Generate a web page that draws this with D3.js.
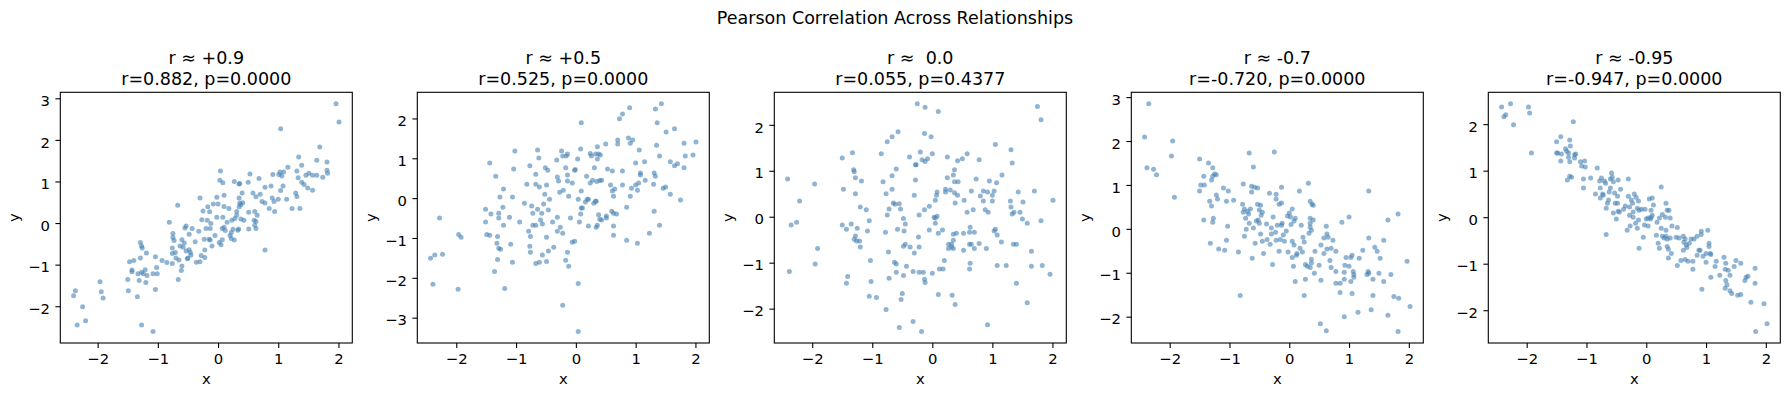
<!DOCTYPE html>
<html>
<head>
<meta charset="utf-8">
<script src="https://cdn.jsdelivr.net/npm/d3@7"></script>
<style>
  html, body { margin: 0; padding: 0; background: #fff; }
  svg { display: block; font-family: "DejaVu Sans", sans-serif; }
</style>
</head>
<body>
<svg id="chart" width="1790" height="396"></svg>
<script>
// ---------- data ----------
const suptitle = "Pearson Correlation Across Relationships";
const targetLabels = ["r ≈ +0.9", "r ≈ +0.5", "r ≈  0.0", "r ≈ -0.7", "r ≈ -0.95"];
const statLabels = ["r=0.882, p=0.0000", "r=0.525, p=0.0000", "r=0.055, p=0.4377", "r=-0.720, p=0.0000", "r=-0.947, p=0.0000"];
const xTicks = [-2, -1, 0, 1, 2];
const yTicks1 = [-2, -1, 0, 1, 2, 3];
const yTicks2 = [-3, -2, -1, 0, 1, 2];
const yTicks3 = [-2, -1, 0, 1, 2];
const yTicks4 = [-2, -1, 0, 1, 2, 3];
const yTicks5 = [-2, -1, 0, 1, 2];

const strongPos = [[-2.40,-1.75],[-2.37,-1.63],[-2.34,-2.45],[-2.25,-2.01],[-2.20,-2.35],[-1.96,-1.41],[-1.94,-1.65],[-1.91,-1.80],[-1.50,-1.36],[-1.49,-1.63],[-1.47,-0.93],[-1.43,-1.13],[-1.43,-1.17],[-1.40,-0.90],[-1.34,-1.77],[-1.33,-1.22],[-1.31,-1.38],[-1.29,-0.84],[-1.29,-0.47],[-1.27,-2.45],[-1.27,-0.55],[-1.26,-0.60],[-1.27,-1.18],[-1.24,-1.22],[-1.21,-1.12],[-1.19,-0.72],[-1.20,-1.43],[-1.18,-1.26],[-1.08,-1.22],[-1.08,-2.61],[-1.04,-0.81],[-1.04,-1.60],[-1.02,-1.07],[-1.01,-1.22],[-0.93,-0.90],[-0.85,-0.95],[-0.81,0.02],[-0.76,-0.97],[-0.76,-0.73],[-0.76,-0.60],[-0.75,-0.25],[-0.75,-0.35],[-0.73,-0.42],[-0.70,-0.84],[-0.71,-0.71],[-0.67,0.43],[-0.66,-1.36],[-0.65,-0.89],[-0.63,-0.55],[-0.61,-1.14],[-0.60,-0.40],[-0.60,-1.03],[-0.58,-0.58],[-0.56,-0.48],[-0.55,-0.12],[-0.53,-0.07],[-0.53,-0.67],[-0.51,-0.86],[-0.50,-0.84],[-0.48,-0.27],[-0.48,-0.64],[-0.46,-0.71],[-0.45,-0.77],[-0.43,-0.13],[-0.38,-0.45],[-0.36,-0.94],[-0.32,-0.20],[-0.30,0.60],[-0.30,-0.93],[-0.28,-0.78],[-0.27,0.08],[-0.25,0.29],[-0.23,-0.39],[-0.22,-0.65],[-0.22,-0.83],[-0.20,-0.13],[-0.18,0.07],[-0.17,0.39],[-0.14,0.27],[-0.15,-0.39],[-0.13,-0.41],[-0.13,-0.13],[-0.12,-0.01],[-0.10,-0.55],[-0.08,0.46],[-0.05,-0.30],[-0.02,0.14],[-0.02,0.62],[0.00,0.46],[0.02,-0.47],[0.03,1.03],[0.04,1.25],[0.05,-0.52],[0.07,-0.13],[0.08,0.97],[0.07,-0.40],[0.08,0.14],[0.10,0.40],[0.10,0.67],[0.10,-0.10],[0.12,-0.18],[0.15,0.02],[0.18,0.35],[0.20,-0.30],[0.22,-0.23],[0.22,-0.37],[0.23,0.07],[0.25,-0.15],[0.27,-0.41],[0.27,1.00],[0.28,0.11],[0.31,0.19],[0.31,0.28],[0.33,-0.17],[0.34,-0.14],[0.35,0.60],[0.35,0.39],[0.35,0.94],[0.36,0.95],[0.36,0.48],[0.38,0.44],[0.38,0.10],[0.40,0.72],[0.41,0.49],[0.43,0.07],[0.50,0.98],[0.51,-0.14],[0.51,0.26],[0.53,1.18],[0.58,0.72],[0.60,0.07],[0.61,0.28],[0.61,-0.05],[0.63,0.63],[0.63,0.04],[0.63,-0.13],[0.65,0.19],[0.68,1.07],[0.70,0.69],[0.73,0.52],[0.78,-0.65],[0.78,0.86],[0.78,0.48],[0.85,0.35],[0.88,0.89],[0.90,0.60],[0.91,1.17],[0.93,0.52],[0.94,0.28],[1.00,0.57],[1.01,1.17],[1.03,1.23],[1.04,2.27],[1.04,0.78],[1.06,1.13],[1.08,0.89],[1.09,1.23],[1.14,0.57],[1.16,1.34],[1.23,0.35],[1.29,0.72],[1.31,0.64],[1.31,1.25],[1.33,1.09],[1.34,1.59],[1.36,0.35],[1.39,1.39],[1.39,0.98],[1.43,0.93],[1.46,1.15],[1.49,0.84],[1.51,1.20],[1.57,0.79],[1.57,1.15],[1.64,1.51],[1.64,1.15],[1.69,1.83],[1.74,1.10],[1.81,1.47],[1.81,1.27],[1.82,1.20],[1.96,2.87],[2.01,2.43]];

const moderatePos = [[-2.43,-1.51],[-2.39,-2.16],[-2.36,-1.43],[-2.28,-0.50],[-2.23,-1.41],[-1.97,-2.29],[-1.96,-0.91],[-1.92,-0.98],[-1.51,-0.28],[-1.51,-0.60],[-1.49,-0.91],[-1.44,0.88],[-1.44,-0.93],[-1.42,-0.40],[-1.36,-1.84],[-1.34,0.55],[-1.32,-1.13],[-1.31,-0.96],[-1.31,-1.54],[-1.29,-0.38],[-1.29,-0.50],[-1.29,-1.26],[-1.27,0.03],[-1.26,-1.28],[-1.22,-0.23],[-1.21,0.23],[-1.21,-0.68],[-1.19,-2.27],[-1.11,-0.48],[-1.09,-1.16],[-1.06,0.03],[-1.06,-1.61],[-1.04,0.73],[-1.02,1.18],[-0.94,-0.60],[-0.86,-0.13],[-0.82,0.35],[-0.79,-0.83],[-0.77,0.81],[-0.77,-1.21],[-0.76,-0.96],[-0.76,-1.36],[-0.74,-0.20],[-0.72,-0.38],[-0.72,-0.68],[-0.67,0.60],[-0.67,0.35],[-0.67,-0.68],[-0.67,-1.64],[-0.64,1.21],[-0.64,-0.28],[-0.62,1.01],[-0.61,0.28],[-0.61,-1.61],[-0.59,-0.55],[-0.57,-0.38],[-0.56,-1.43],[-0.56,-0.65],[-0.54,-0.15],[-0.52,0.10],[-0.51,0.76],[-0.49,0.33],[-0.49,-0.98],[-0.49,-1.59],[-0.47,0.70],[-0.46,-0.30],[-0.46,-1.33],[-0.44,-0.03],[-0.39,-0.60],[-0.37,-1.23],[-0.32,0.96],[-0.31,0.53],[-0.31,-0.48],[-0.31,-0.83],[-0.29,0.43],[-0.27,0.15],[-0.26,-0.73],[-0.24,1.18],[-0.22,-2.69],[-0.22,1.06],[-0.22,-0.88],[-0.21,0.20],[-0.17,0.76],[-0.17,-1.56],[-0.16,1.06],[-0.14,1.11],[-0.14,0.58],[-0.14,0.43],[-0.14,-1.36],[-0.12,0.05],[-0.12,-1.71],[-0.09,-0.50],[-0.06,0.38],[-0.06,-1.11],[-0.02,-1.08],[-0.02,0.70],[-0.01,0.72],[0.03,0.98],[0.04,-0.03],[0.04,-2.14],[0.04,-3.35],[0.06,-0.60],[0.08,1.23],[0.08,-0.40],[0.09,0.18],[0.09,1.89],[0.09,-0.25],[0.11,-0.25],[0.16,-0.10],[0.18,0.55],[0.19,-0.03],[0.21,-0.03],[0.21,-0.70],[0.24,1.12],[0.24,0.38],[0.26,1.06],[0.28,0.45],[0.30,-0.13],[0.31,0.76],[0.33,1.11],[0.33,-0.08],[0.34,-0.08],[0.34,-0.73],[0.35,0.42],[0.36,1.29],[0.36,0.98],[0.36,-0.68],[0.38,1.11],[0.38,-0.42],[0.40,0.44],[0.40,-0.53],[0.41,1.08],[0.43,0.45],[0.43,-0.55],[0.50,1.36],[0.51,-0.45],[0.51,-0.50],[0.53,0.73],[0.58,0.33],[0.60,-0.33],[0.61,0.68],[0.61,0.18],[0.63,0.05],[0.63,-0.38],[0.63,-0.70],[0.63,-0.93],[0.65,0.23],[0.68,-0.40],[0.70,1.46],[0.70,1.36],[0.73,1.99],[0.78,2.11],[0.78,0.68],[0.78,0.33],[0.85,-0.23],[0.85,-1.06],[0.88,1.51],[0.90,2.27],[0.91,1.38],[0.91,0.05],[0.93,0.25],[0.95,1.46],[1.00,0.88],[1.00,0.33],[1.03,0.20],[1.03,-1.13],[1.05,0.38],[1.06,1.21],[1.08,0.63],[1.08,0.58],[1.15,0.91],[1.16,0.45],[1.23,-0.88],[1.30,0.35],[1.31,0.63],[1.31,-0.33],[1.33,2.24],[1.33,0.55],[1.35,1.33],[1.36,1.89],[1.40,1.06],[1.40,-0.68],[1.43,2.37],[1.46,0.25],[1.50,0.28],[1.51,1.66],[1.58,0.91],[1.58,0.10],[1.65,1.74],[1.65,0.81],[1.70,0.86],[1.75,-0.05],[1.81,1.38],[1.81,0.76],[1.83,1.06],[1.96,1.08],[2.01,1.41]];

const noCorr = [[-2.41,0.82],[-2.38,-1.19],[-2.35,-0.18],[-2.26,-0.12],[-2.21,0.34],[-1.96,0.71],[-1.95,-1.03],[-1.91,-0.69],[-1.50,1.28],[-1.50,-0.18],[-1.48,0.60],[-1.43,-0.27],[-1.43,-1.45],[-1.41,-1.30],[-1.35,-0.16],[-1.33,1.39],[-1.31,1.02],[-1.30,0.98],[-1.30,-0.49],[-1.28,0.85],[-1.28,0.50],[-1.28,-0.42],[-1.26,-0.53],[-1.25,-0.25],[-1.21,-0.53],[-1.20,0.21],[-1.20,-0.66],[-1.18,0.78],[-1.10,0.15],[-1.08,-0.31],[-1.05,-0.09],[-1.05,-1.73],[-1.03,-0.95],[-1.02,-1.41],[-0.93,-1.76],[-0.85,1.37],[-0.82,0.76],[-0.78,-0.34],[-0.77,-2.02],[-0.77,0.50],[-0.75,1.63],[-0.75,0.04],[-0.73,-0.77],[-0.72,0.17],[-0.72,-1.34],[-0.67,1.74],[-0.67,0.89],[-0.67,0.60],[-0.65,0.30],[-0.63,-0.99],[-0.62,0.27],[-0.60,1.04],[-0.60,-1.03],[-0.60,-1.21],[-0.58,-0.27],[-0.57,1.85],[-0.55,0.28],[-0.55,-2.41],[-0.53,0.17],[-0.52,-1.80],[-0.50,-1.67],[-0.48,-0.04],[-0.48,-0.64],[-0.48,-1.28],[-0.47,-0.31],[-0.45,-0.16],[-0.45,-0.60],[-0.43,-1.08],[-0.38,1.30],[-0.37,-0.66],[-0.32,-1.19],[-0.32,-2.28],[-0.30,0.47],[-0.30,-0.79],[-0.28,0.80],[-0.28,1.13],[-0.27,1.13],[-0.25,2.46],[-0.23,-0.44],[-0.22,0.04],[-0.22,-0.66],[-0.22,-1.21],[-0.20,1.41],[-0.18,-2.50],[-0.17,1.24],[-0.15,-1.21],[-0.13,0.15],[-0.13,1.81],[-0.13,-1.36],[-0.12,2.38],[-0.12,-1.43],[-0.12,1.20],[-0.08,1.26],[-0.05,-0.29],[-0.05,0.23],[-0.02,1.74],[0.00,1.37],[0.00,-1.23],[0.03,-0.01],[0.05,-0.03],[0.05,0.36],[0.05,-0.14],[0.07,0.47],[0.08,0.54],[0.08,0.01],[0.10,2.29],[0.10,-0.36],[0.10,-1.69],[0.12,-1.14],[0.17,-0.29],[0.18,-1.14],[0.20,-0.95],[0.22,0.60],[0.22,0.54],[0.25,1.30],[0.25,0.85],[0.27,-0.60],[0.27,-0.69],[0.30,0.58],[0.32,-0.66],[0.32,-0.60],[0.33,-1.71],[0.35,0.91],[0.35,-0.38],[0.35,-0.51],[0.35,-0.69],[0.37,1.02],[0.37,0.52],[0.37,0.76],[0.38,0.30],[0.38,-1.91],[0.40,-0.36],[0.42,1.22],[0.42,0.47],[0.43,0.76],[0.50,1.26],[0.52,-0.73],[0.53,0.36],[0.52,-0.36],[0.58,1.37],[0.58,0.10],[0.62,-0.34],[0.62,-0.60],[0.62,-1.14],[0.63,-0.23],[0.63,-1.01],[0.65,0.56],[0.65,-0.60],[0.68,0.15],[0.70,-0.69],[0.70,-0.34],[0.73,0.82],[0.78,-0.58],[0.78,1.24],[0.80,0.45],[0.85,0.56],[0.85,0.34],[0.88,0.15],[0.90,-0.69],[0.92,0.54],[0.92,-2.35],[0.93,0.10],[0.95,0.78],[1.00,0.34],[1.00,0.47],[1.03,0.56],[1.03,-0.31],[1.05,1.57],[1.05,-0.27],[1.07,0.74],[1.08,-0.40],[1.08,-1.06],[1.15,-0.55],[1.16,0.91],[1.23,-1.06],[1.30,0.34],[1.31,1.46],[1.31,0.21],[1.33,1.17],[1.33,0.06],[1.35,-0.60],[1.36,0.10],[1.40,-0.60],[1.40,-1.45],[1.43,0.54],[1.46,0.10],[1.50,-0.05],[1.51,0.32],[1.58,-0.14],[1.58,-1.87],[1.65,-0.75],[1.65,-1.08],[1.70,0.56],[1.75,2.40],[1.81,2.11],[1.81,-0.09],[1.83,-1.06],[1.96,-1.25],[2.01,0.36]];

const moderateNeg = [[-2.42,2.09],[-2.38,1.39],[-2.35,2.85],[-2.27,1.36],[-2.22,1.23],[-1.97,1.66],[-1.95,2.00],[-1.92,0.72],[-1.50,1.59],[-1.50,0.86],[-1.48,1.00],[-1.43,1.20],[-1.43,0.20],[-1.42,1.00],[-1.35,1.50],[-1.33,0.63],[-1.32,-0.33],[-1.30,1.11],[-1.30,0.52],[-1.28,1.39],[-1.28,1.20],[-1.28,0.15],[-1.27,0.24],[-1.25,1.25],[-1.22,0.77],[-1.22,1.23],[-1.20,0.68],[-1.18,-0.46],[-1.10,0.93],[-1.08,-0.49],[-1.05,0.63],[-1.05,-0.26],[-1.03,0.06],[-1.02,0.86],[-0.93,0.65],[-0.85,-0.53],[-0.82,-1.52],[-0.78,0.56],[-0.77,1.02],[-0.77,0.38],[-0.75,-0.17],[-0.75,0.45],[-0.73,0.24],[-0.72,-0.01],[-0.70,0.40],[-0.68,0.34],[-0.67,1.73],[-0.67,0.13],[-0.65,0.45],[-0.63,0.84],[-0.63,0.97],[-0.62,-0.67],[-0.60,1.41],[-0.60,0.02],[-0.58,0.95],[-0.57,-0.33],[-0.55,0.18],[-0.53,0.93],[-0.53,0.56],[-0.52,0.20],[-0.50,0.43],[-0.50,0.13],[-0.48,0.54],[-0.48,-0.12],[-0.47,0.31],[-0.45,0.38],[-0.45,-0.28],[-0.43,-0.56],[-0.38,0.11],[-0.37,-0.24],[-0.33,0.81],[-0.32,-0.35],[-0.30,0.02],[-0.30,-0.12],[-0.28,-0.81],[-0.27,0.27],[-0.25,1.75],[-0.23,-0.08],[-0.22,0.68],[-0.22,0.79],[-0.22,-0.26],[-0.20,0.08],[-0.17,0.56],[-0.17,-0.51],[-0.15,-0.24],[-0.13,0.08],[-0.13,0.95],[-0.13,0.59],[-0.12,0.13],[-0.10,-0.14],[-0.08,-0.28],[-0.05,-0.05],[-0.03,0.29],[-0.02,-0.53],[0.00,0.36],[0.02,0.27],[0.03,0.10],[0.05,0.45],[0.05,-0.28],[0.05,-0.65],[0.07,-0.85],[0.08,-0.37],[0.08,0.18],[0.10,-1.20],[0.10,0.24],[0.12,-0.60],[0.13,-0.56],[0.17,0.86],[0.18,-0.44],[0.20,0.08],[0.22,-0.53],[0.23,-0.19],[0.25,-0.30],[0.25,-1.52],[0.27,-0.81],[0.27,-1.15],[0.30,-0.85],[0.32,1.04],[0.33,-0.10],[0.35,0.63],[0.35,0.24],[0.35,0.13],[0.35,0.04],[0.35,-0.88],[0.37,-0.03],[0.37,-0.69],[0.37,-0.78],[0.38,0.56],[0.40,0.20],[0.40,0.54],[0.42,-1.01],[0.43,-0.51],[0.50,-0.83],[0.52,-2.16],[0.53,-0.37],[0.53,-1.17],[0.58,-0.56],[0.58,-0.21],[0.62,0.06],[0.62,-2.32],[0.63,-0.12],[0.63,-0.46],[0.65,-0.19],[0.68,-0.72],[0.70,-0.44],[0.70,-0.88],[0.73,-0.26],[0.78,-0.51],[0.78,-0.97],[0.78,-1.24],[0.85,-1.24],[0.85,-1.45],[0.88,0.15],[0.92,-0.99],[0.92,-1.15],[0.92,-2.00],[0.93,-0.83],[0.95,-0.65],[1.00,0.27],[1.00,-0.85],[1.03,-0.65],[1.03,-1.20],[1.05,-0.60],[1.05,-1.47],[1.07,-0.97],[1.08,-1.10],[1.08,-1.04],[1.15,-1.90],[1.17,-0.67],[1.23,-0.49],[1.30,-1.04],[1.32,-0.97],[1.33,0.86],[1.33,-0.21],[1.33,-1.01],[1.37,-1.84],[1.40,-1.15],[1.40,-1.52],[1.43,-0.42],[1.47,-0.51],[1.50,-1.01],[1.52,-0.67],[1.58,-0.26],[1.58,-1.20],[1.65,0.20],[1.65,-1.97],[1.70,-1.04],[1.75,-1.54],[1.82,0.34],[1.82,-2.34],[1.83,-1.58],[1.97,-0.74],[2.02,-1.77]];

const strongNeg = [[-2.42,2.37],[-2.38,2.16],[-2.35,2.20],[-2.27,2.44],[-2.22,1.99],[-1.97,2.37],[-1.95,2.24],[-1.92,1.38],[-1.50,1.62],[-1.50,1.38],[-1.48,1.38],[-1.43,1.21],[-1.43,1.73],[-1.42,1.36],[-1.35,1.47],[-1.33,1.42],[-1.32,0.80],[-1.30,1.38],[-1.30,1.29],[-1.28,1.66],[-1.28,1.19],[-1.28,0.88],[-1.27,1.53],[-1.25,0.86],[-1.22,2.05],[-1.20,1.27],[-1.20,1.34],[-1.18,1.36],[-1.10,1.19],[-1.08,1.10],[-1.05,0.82],[-1.05,0.63],[-1.03,1.21],[-1.02,1.08],[-0.93,0.84],[-0.85,0.50],[-0.82,1.06],[-0.78,0.78],[-0.77,0.41],[-0.77,0.63],[-0.75,0.84],[-0.73,0.50],[-0.72,0.47],[-0.70,0.78],[-0.68,0.73],[-0.67,-0.37],[-0.67,0.19],[-0.65,0.30],[-0.63,0.37],[-0.62,0.54],[-0.60,0.82],[-0.60,0.63],[-0.58,0.95],[-0.57,0.86],[-0.55,0.76],[-0.55,0.09],[-0.53,0.52],[-0.52,0.30],[-0.50,-0.04],[-0.48,0.45],[-0.48,0.30],[-0.47,0.80],[-0.47,0.13],[-0.45,0.11],[-0.43,0.60],[-0.38,0.17],[-0.35,0.24],[-0.32,-0.28],[-0.30,0.82],[-0.30,0.45],[-0.28,0.22],[-0.28,0.04],[-0.27,-0.19],[-0.25,0.37],[-0.23,0.30],[-0.22,0.00],[-0.22,0.11],[-0.20,0.50],[-0.18,-0.13],[-0.17,0.43],[-0.15,0.19],[-0.15,-0.24],[-0.13,0.35],[-0.13,-0.06],[-0.12,-0.67],[-0.12,0.15],[-0.08,0.17],[-0.05,-0.43],[-0.03,-0.17],[-0.02,0.17],[0.00,-0.04],[0.03,-0.19],[0.03,-0.02],[0.05,0.39],[0.07,-0.04],[0.08,0.00],[0.08,0.15],[0.10,0.41],[0.10,0.04],[0.12,0.26],[0.17,-0.39],[0.18,-0.11],[0.20,-0.56],[0.22,-0.67],[0.22,-0.02],[0.25,0.65],[0.25,-0.24],[0.27,0.06],[0.27,-0.41],[0.30,-0.45],[0.32,0.00],[0.33,0.30],[0.33,-0.28],[0.33,-0.41],[0.35,-0.47],[0.35,-0.63],[0.35,0.15],[0.37,-0.69],[0.37,-0.88],[0.38,0.15],[0.40,-0.02],[0.40,-0.45],[0.42,-0.78],[0.43,-0.19],[0.50,-0.43],[0.52,-1.04],[0.52,-0.22],[0.55,-0.45],[0.58,-0.93],[0.62,-0.41],[0.62,-0.71],[0.63,-0.54],[0.65,-0.47],[0.65,-0.91],[0.67,-0.60],[0.68,-0.65],[0.70,-0.95],[0.72,-0.56],[0.75,-0.47],[0.78,-1.12],[0.78,-0.95],[0.80,-0.47],[0.85,-0.41],[0.85,-0.82],[0.88,-0.71],[0.90,-0.71],[0.92,-0.30],[0.92,-0.37],[0.93,-1.55],[0.95,-0.84],[1.00,-0.97],[1.00,-0.78],[1.03,-0.28],[1.05,-0.56],[1.05,-0.63],[1.07,-0.78],[1.08,-0.80],[1.08,-1.29],[1.15,-1.06],[1.17,-0.95],[1.23,-1.25],[1.30,-0.86],[1.32,-1.12],[1.32,-1.53],[1.33,-0.99],[1.33,-1.36],[1.35,-1.45],[1.37,-1.14],[1.40,-1.25],[1.40,-1.58],[1.43,-1.64],[1.47,-1.06],[1.50,-0.93],[1.53,-1.68],[1.58,-0.99],[1.58,-1.66],[1.65,-1.36],[1.67,-1.29],[1.70,-1.27],[1.75,-1.83],[1.82,-1.10],[1.82,-1.42],[1.83,-2.46],[1.97,-1.86],[2.02,-2.29]];

const panelData = [strongPos, moderatePos, noCorr, moderateNeg, strongNeg];
const panelYTicks = [yTicks1, yTicks2, yTicks3, yTicks4, yTicks5];

// ---------- layout ----------
const svg = d3.select("#chart");
const W = 1790;
const axLeft0 = 60.3, axStep = 357, axW = 292;
const axTop = 92.3, axBottom = 343;
const font = '"DejaVu Sans", sans-serif';
const tickFont = 14.8, titleFont = 17.5;
const tickLen = 4.9;

svg.append("text")
  .attr("x", W / 2).attr("y", 24)
  .attr("text-anchor", "middle")
  .style("font-size", titleFont + "px").style("fill", "#000")
  .text(suptitle);

function padDomain(vals) {
  const [lo, hi] = d3.extent(vals);
  const m = (hi - lo) * 0.05;
  return [lo - m, hi + m];
}

panelData.forEach((pts, i) => {
  const left = axLeft0 + i * axStep;
  const g = svg.append("g").attr("transform", `translate(${left},0)`);

  const x = d3.scaleLinear().domain(padDomain(pts.map(d => d[0]))).range([0, axW]);
  const y = d3.scaleLinear().domain(padDomain(pts.map(d => d[1]))).range([axBottom, axTop]);

  // points
  g.append("g").selectAll("circle").data(pts).join("circle")
    .attr("cx", d => x(d[0]))
    .attr("cy", d => y(d[1]))
    .attr("r", 2.5)
    .attr("fill", "steelblue")
    .attr("fill-opacity", 0.6);

  // x axis
  const xa = g.append("g").attr("transform", `translate(0,${axBottom})`)
    .call(d3.axisBottom(x).tickValues(xTicks).tickSize(tickLen).tickPadding(5.6).tickSizeOuter(0)
      .tickFormat(d3.format("d")));
  xa.select(".domain").remove();
  xa.selectAll("line").attr("stroke", "#000").attr("stroke-width", 1.1);
  xa.selectAll("text").style("font-size", tickFont + "px").style("font-family", font).attr("fill", "#000");

  // y axis
  const ya = g.append("g")
    .call(d3.axisLeft(y).tickValues(panelYTicks[i]).tickSize(tickLen).tickPadding(5.4).tickSizeOuter(0)
      .tickFormat(d3.format("d")));
  ya.select(".domain").remove();
  ya.selectAll("line").attr("stroke", "#000").attr("stroke-width", 1.1);
  ya.selectAll("text").style("font-size", tickFont + "px").style("font-family", font)
    .attr("fill", "#000").attr("dy", "7.2px");

  // frame
  g.append("rect")
    .attr("x", 0).attr("y", axTop).attr("width", axW).attr("height", axBottom - axTop)
    .attr("fill", "none").attr("stroke", "#000").attr("stroke-width", 1.1);

  // titles
  g.append("text")
    .attr("x", axW / 2).attr("y", 64)
    .attr("text-anchor", "middle").attr("xml:space", "preserve")
    .style("white-space", "pre")
    .style("font-size", titleFont + "px").style("fill", "#000")
    .text(targetLabels[i]);
  g.append("text")
    .attr("x", axW / 2).attr("y", 85)
    .attr("text-anchor", "middle")
    .style("font-size", titleFont + "px").style("fill", "#000")
    .text(statLabels[i]);

  // axis labels
  g.append("text")
    .attr("x", axW / 2).attr("y", 383.5)
    .attr("text-anchor", "middle")
    .style("font-size", tickFont + "px").style("fill", "#000")
    .text("x");
  g.append("text")
    .attr("transform", `translate(-41,${(axTop + axBottom) / 2}) rotate(-90)`)
    .attr("text-anchor", "middle")
    .style("font-size", tickFont + "px").style("fill", "#000")
    .text("y");
});
</script>
</body>
</html>
